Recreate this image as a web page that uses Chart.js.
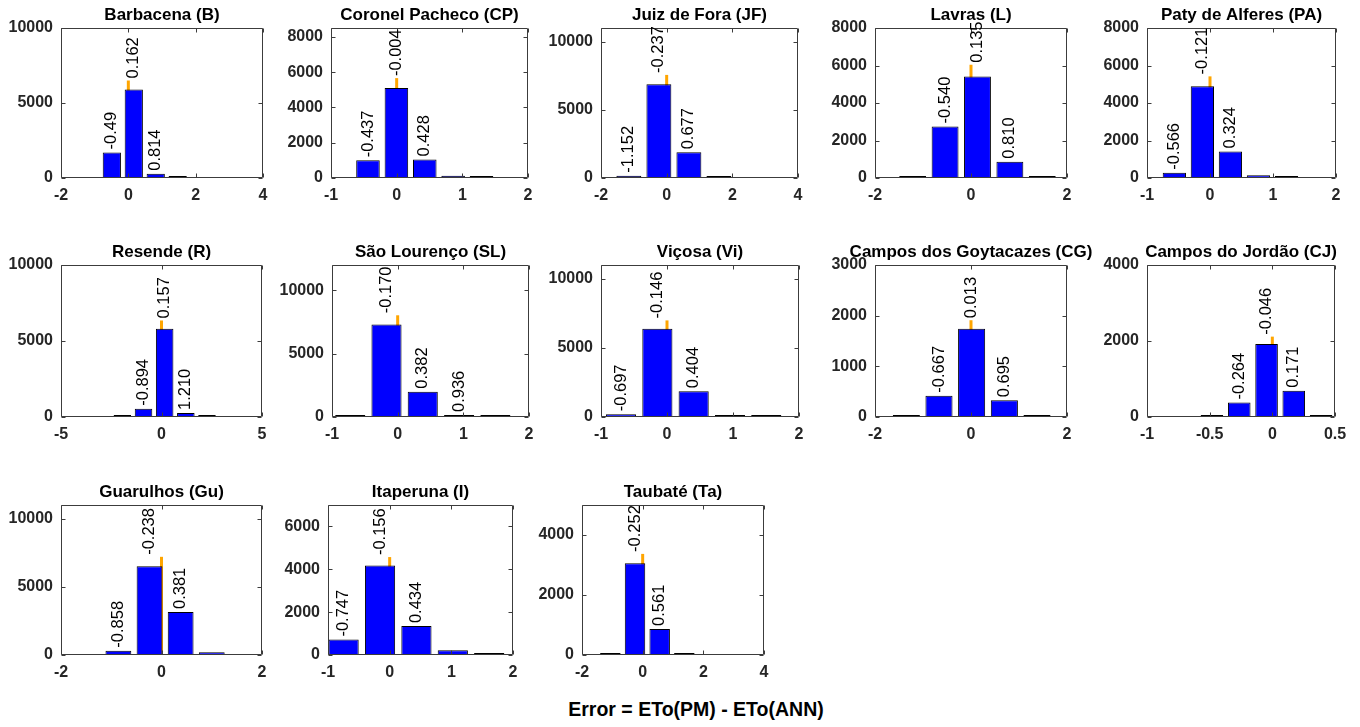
<!DOCTYPE html>
<html>
<head>
<meta charset="utf-8">
<script src="https://cdn.jsdelivr.net/npm/chart.js@4"></script>
<style>
  body { margin: 0; background: #fff; width: 1360px; height: 727px; position: relative; overflow: hidden;
         font-family: Arial, "Liberation Sans", sans-serif; }
  canvas { position: absolute; }
  #xlabel { position: absolute; left: 496px; width: 400px; top: 698px; text-align: center;
            font-weight: bold; font-size: 19.5px; color: #000; }
</style>
</head>
<body>
<div id="xlabel">Error = ETo(PM) - ETo(ANN)</div>
<script>
// histogram of the error per station
const titles = ['Barbacena (B)', 'Coronel Pacheco (CP)', 'Juiz de Fora (JF)', 'Lavras (L)', 'Paty de Alferes (PA)',
  'Resende (R)', 'São Lourenço (SL)', 'Viçosa (Vi)', 'Campos dos Goytacazes (CG)', 'Campos do Jordão (CJ)',
  'Guarulhos (Gu)', 'Itaperuna (I)', 'Taubaté (Ta)'];

const binCenters = [
  [-0.49, 0.162, 0.814, 1.466],
  [-0.437, -0.004, 0.428, 0.86, 1.292],
  [-1.152, -0.237, 0.677, 1.591],
  [-1.215, -0.54, 0.135, 0.81, 1.485],
  [-0.566, -0.121, 0.324, 0.769, 1.214],
  [-1.947, -0.894, 0.157, 1.21, 2.263],
  [-0.722, -0.17, 0.382, 0.936, 1.488],
  [-0.697, -0.146, 0.404, 0.954, 1.504],
  [-1.347, -0.667, 0.013, 0.695, 1.375],
  [-0.482, -0.264, -0.046, 0.171, 0.389],
  [-0.858, -0.238, 0.381, 1.0],
  [-0.747, -0.156, 0.434, 1.024, 1.614],
  [-1.065, -0.252, 0.561, 1.374]
];

const binCounts = [
  [1700, 5900, 280, 30],
  [1000, 5100, 1050, 130, 10],
  [170, 6880, 1880, 130],
  [40, 2750, 5420, 870, 40],
  [280, 4900, 1420, 150, 10],
  [20, 540, 5800, 260, 15],
  [50, 7300, 2000, 150, 20],
  [200, 6380, 1870, 120, 10],
  [5, 420, 1740, 330, 25],
  [20, 380, 1920, 690, 40],
  [320, 6500, 3150, 200],
  [720, 4180, 1350, 220, 30],
  [20, 3060, 870, 20]
];

const binLabels = [
  ['-0.49', '0.162', '0.814', ''],
  ['-0.437', '-0.004', '0.428', '', ''],
  ['-1.152', '-0.237', '0.677', ''],
  ['', '-0.540', '0.135', '0.810', ''],
  ['-0.566', '-0.121', '0.324', '', ''],
  ['', '-0.894', '0.157', '1.210', ''],
  ['', '-0.170', '0.382', '0.936', ''],
  ['-0.697', '-0.146', '0.404', '', ''],
  ['', '-0.667', '0.013', '0.695', ''],
  ['', '-0.264', '-0.046', '0.171', ''],
  ['-0.858', '-0.238', '0.381', ''],
  ['-0.747', '-0.156', '0.434', '', ''],
  ['', '-0.252', '0.561', '']
];

// orange bar at zero error, from 0 up to this count
const zeroBarTop = [6500, 5660, 7560, 6040, 5420, 6350, 8030, 6990, 1910, 2115, 7200, 4570, 3370];

const xMin = [-2, -1, -2, -2, -1, -5, -1, -1, -2, -1, -2, -1, -2];
const xMax = [4, 2, 4, 2, 2, 5, 2, 2, 2, 0.5, 2, 2, 4];
const xTicks = [
  [-2, 0, 2, 4], [-1, 0, 1, 2], [-2, 0, 2, 4], [-2, 0, 2], [-1, 0, 1, 2],
  [-5, 0, 5], [-1, 0, 1, 2], [-1, 0, 1, 2], [-2, 0, 2], [-1, -0.5, 0, 0.5],
  [-2, 0, 2], [-1, 0, 1, 2], [-2, 0, 2, 4]
];
const yMax = [10000, 8500, 11000, 8000, 8000, 10000, 12000, 11000, 3000, 4000, 11000, 7000, 5000];
const yTicks = [
  [0, 5000, 10000], [0, 2000, 4000, 6000, 8000], [0, 5000, 10000], [0, 2000, 4000, 6000, 8000],
  [0, 2000, 4000, 6000, 8000], [0, 5000, 10000], [0, 5000, 10000], [0, 5000, 10000],
  [0, 1000, 2000, 3000], [0, 2000, 4000], [0, 5000, 10000], [0, 2000, 4000, 6000], [0, 2000, 4000]
];

// plot boxes on the page: left, top, right, bottom
const boxes = [
  [61, 28, 263, 178], [331, 28, 528, 178], [601, 28, 798, 178], [875, 28, 1067, 178], [1147, 28, 1336, 178],
  [61, 265, 262, 417], [332, 265, 529, 417], [601, 265, 799, 417], [875, 265, 1067, 417], [1147, 265, 1335, 417],
  [61, 505, 262, 655], [328, 505, 513, 655], [582, 505, 764, 655]
];

const Y_AXIS_W = 70, X_AXIS_H = 40, PAD_TOP = 30, PAD_RIGHT = 45;
const FONT = 'Arial, "Liberation Sans", sans-serif';
const tickFont = { family: FONT, size: 16, weight: 'bold' };

// box around the axes with inward ticks on all sides
const framePlugin = {
  id: 'frame',
  afterDatasetsDraw(chart) {
    const { ctx, chartArea: a, scales: { x, y } } = chart;
    const L = Math.round(a.left) + 0.5, T = Math.round(a.top) + 0.5;
    const R = Math.round(a.right) - 0.5, B = Math.round(a.bottom) - 0.5;
    ctx.save();
    ctx.strokeStyle = '#3c3c3c';
    ctx.lineWidth = 1;
    ctx.beginPath();
    x.ticks.forEach(t => {
      const px = Math.round(x.getPixelForValue(t.value)) + 0.5;
      ctx.moveTo(px, B); ctx.lineTo(px, B - 4);
      ctx.moveTo(px, T); ctx.lineTo(px, T + 4);
    });
    y.ticks.forEach(t => {
      const py = Math.round(y.getPixelForValue(t.value)) + 0.5;
      ctx.moveTo(L, py); ctx.lineTo(L + 4, py);
      ctx.moveTo(R, py); ctx.lineTo(R - 4, py);
    });
    ctx.moveTo(L, T); ctx.lineTo(R, T); ctx.lineTo(R, B); ctx.lineTo(L, B); ctx.closePath();
    ctx.stroke();
    ctx.restore();
  }
};

// vertical value labels over the bars
const labelPlugin = {
  id: 'binText',
  afterDatasetsDraw(chart, args, opts) {
    const { ctx, scales: { y } } = chart;
    const bars = chart.getDatasetMeta(0).data;
    const counts = opts.counts;
    const peak = counts.indexOf(Math.max(...counts));
    ctx.save();
    ctx.font = '16.5px ' + FONT;
    ctx.fillStyle = '#000';
    ctx.textAlign = 'left';
    ctx.textBaseline = 'middle';
    bars.forEach((bar, j) => {
      const txt = opts.labels[j];
      if (!txt) return;
      let base = bar.y - 3;
      if (j === peak) base = Math.min(base, y.getPixelForValue(opts.zeroTop) - 2);
      ctx.save();
      ctx.translate(bar.x, base);
      ctx.rotate(-Math.PI / 2);
      ctx.fillText(txt, 0, 0);
      ctx.restore();
    });
    ctx.restore();
  }
};

const titlePlugin = {
  id: 'panelTitle',
  afterDraw(chart, args, opts) {
    const { ctx, chartArea: a } = chart;
    ctx.save();
    ctx.font = 'bold 17px ' + FONT;
    ctx.fillStyle = '#000';
    ctx.textAlign = 'center';
    ctx.textBaseline = 'middle';
    ctx.fillText(opts.text, (a.left + a.right) / 2, a.top - 13);
    ctx.restore();
  }
};

function createPanel(i) {
  const [l, t, r, b] = boxes[i];
  const canvas = document.createElement('canvas');
  canvas.width = (r - l) + Y_AXIS_W + PAD_RIGHT;
  canvas.height = (b - t) + PAD_TOP + X_AXIS_H;
  canvas.style.left = (l - Y_AXIS_W) + 'px';
  canvas.style.top = (t - PAD_TOP) + 'px';
  document.body.appendChild(canvas);

  new Chart(canvas.getContext('2d'), {
    type: 'bar',
    data: {
      datasets: [{
        type: 'bar',
        data: binCenters[i].map((c, j) => ({ x: c, y: binCounts[i][j] })),
        backgroundColor: '#0000ff',
        borderColor: '#000',
        borderWidth: 1,
        borderSkipped: false,
        minBarLength: 2,
        barPercentage: 0.83,
        categoryPercentage: 1,
        order: 1
      }, {
        type: 'line',
        data: [{ x: 0, y: 0 }, { x: 0, y: zeroBarTop[i] }],
        borderColor: '#ffa500',
        borderWidth: 3,
        pointRadius: 0,
        order: 2
      }]
    },
    options: {
      responsive: false,
      animation: false,
      layout: { padding: { top: PAD_TOP, right: PAD_RIGHT, left: 0, bottom: 0 } },
      scales: {
        x: {
          type: 'linear',
          min: xMin[i],
          max: xMax[i],
          offset: false,
          grid: { display: false, drawTicks: false, offset: false },
          border: { display: false },
          afterBuildTicks: s => { s.ticks = xTicks[i].map(v => ({ value: v })); },
          afterFit: s => { s.height = X_AXIS_H; },
          ticks: { font: tickFont, color: '#262626', padding: 8, maxRotation: 0, autoSkip: false,
                   callback: v => String(v) }
        },
        y: {
          min: 0,
          max: yMax[i],
          grid: { display: false, drawTicks: false },
          border: { display: false },
          afterBuildTicks: s => { s.ticks = yTicks[i].map(v => ({ value: v })); },
          afterFit: s => { s.width = Y_AXIS_W; },
          ticks: { font: tickFont, color: '#262626', padding: 8, callback: v => String(v) }
        }
      },
      plugins: {
        legend: { display: false },
        tooltip: { enabled: false },
        binText: { labels: binLabels[i], counts: binCounts[i], zeroTop: zeroBarTop[i] },
        panelTitle: { text: titles[i] }
      }
    },
    plugins: [framePlugin, labelPlugin, titlePlugin]
  });
}

titles.forEach((_, i) => createPanel(i));
</script>
</body>
</html>
